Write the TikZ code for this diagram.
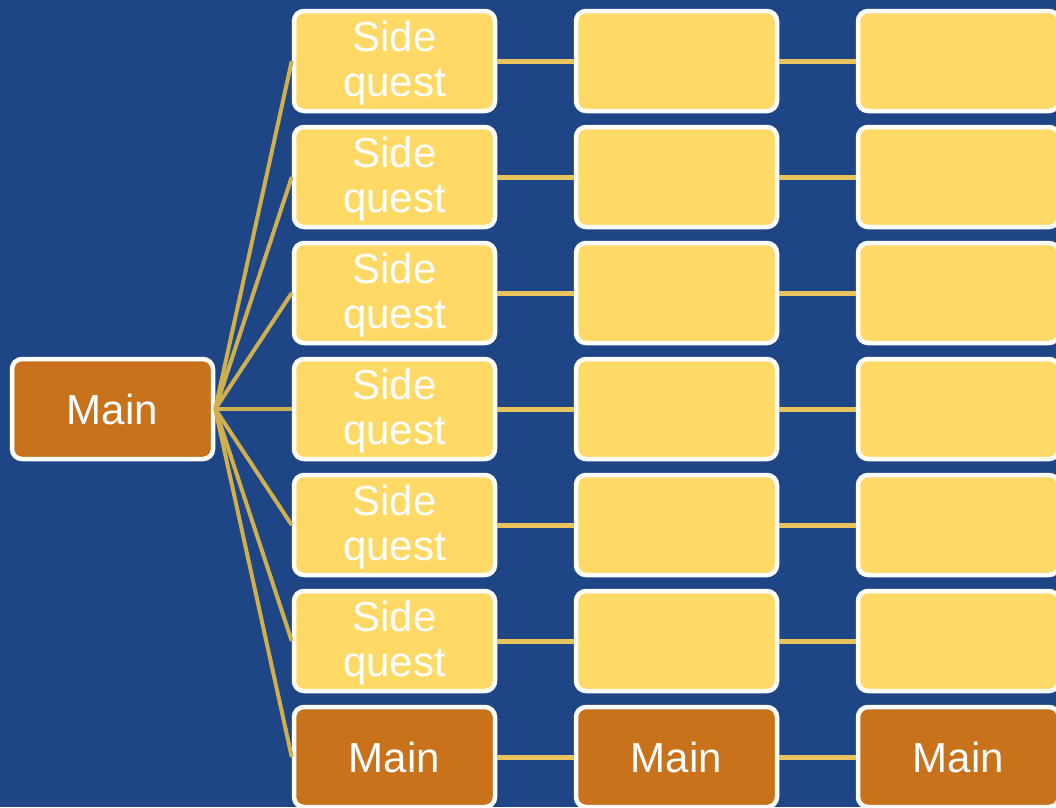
\documentclass[tikz,border=0pt]{standalone}
\usepackage{fontspec}
\setmainfont{Liberation Sans}

\definecolor{questbg}{RGB}{30,69,134}
\definecolor{sidefill}{RGB}{255,217,102}
\definecolor{mainfill}{RGB}{200,114,28}
\definecolor{fanline}{RGB}{207,176,77}
\definecolor{linkline}{RGB}{232,196,90}

\tikzset{
  questbox/.style={
    draw=white,
    line width=4.5pt,
    rounded corners=10pt,
    minimum width=201pt,
    minimum height=100pt,
    inner sep=0pt,
    text=white,
    align=center,
    font=\fontsize{42}{45}\selectfont
  },
  sidebox/.style={questbox, fill=sidefill, text depth=4pt},
  mainbox/.style={questbox, fill=mainfill},
  fan/.style={draw=fanline, line width=4pt},
  link/.style={draw=linkline, line width=5pt}
}

\begin{document}
\begin{tikzpicture}[x=1pt,y=-1pt]
  \useasboundingbox (0,0) rectangle (1056,807);
  \fill[questbg] (0,0) rectangle (1056,807);
  \clip (0,0) rectangle (1056,807);

  % Starting point
  \node[mainbox] (root) at (112.5,409) {Main};

  % Side quest rows, each with two empty follow-ups
  \foreach \r in {1,...,6} {
    \node[sidebox] (s\r) at (394.5,{61+116*(\r-1)}) {Side\\quest};
    \node[sidebox] (a\r) at (676.5,{61+116*(\r-1)}) {};
    \node[sidebox] (b\r) at (958.5,{61+116*(\r-1)}) {};
  }

  % Main line along the bottom
  \node[mainbox] (m1) at (394.5,757) {Main};
  \node[mainbox] (m2) at (676.5,757) {Main};
  \node[mainbox] (m3) at (958.5,757) {Main};

  % Fan out from the start
  \foreach \r in {1,...,6} {
    \draw[fan] (root.east) -- (s\r.west);
    \draw[link] (s\r.east) -- (a\r.west);
    \draw[link] (a\r.east) -- (b\r.west);
  }
  \draw[fan] (root.east) -- (m1.west);
  \draw[link] (m1.east) -- (m2.west);
  \draw[link] (m2.east) -- (m3.west);
\end{tikzpicture}
\end{document}
